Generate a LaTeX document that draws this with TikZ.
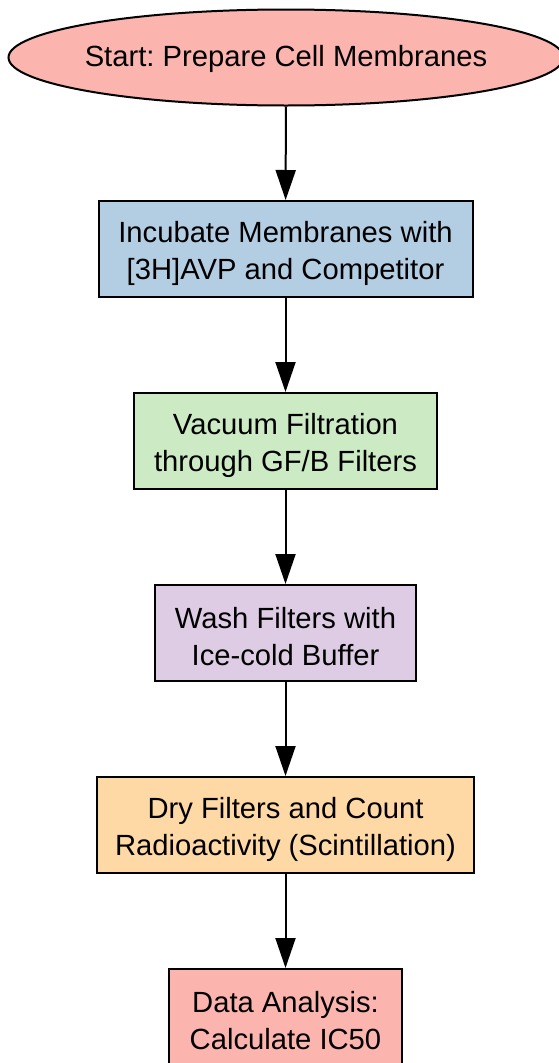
\documentclass[tikz,border=0pt]{standalone}
\usepackage{fontspec}
\setmainfont{Liberation Sans}
\usetikzlibrary{arrows.meta,shapes.geometric}
\frenchspacing
\definecolor{cred}{HTML}{FBB4AE}
\definecolor{cblue}{HTML}{B3CDE3}
\definecolor{cgreen}{HTML}{CCEBC5}
\definecolor{cpurple}{HTML}{DECBE4}
\definecolor{corange}{HTML}{FED9A6}
\tikzset{
  txt/.style={align=center, inner sep=0pt, yshift=-4pt, font=\fontsize{29.2pt}{37pt}\selectfont\frenchspacing},
  stepbox/.style={draw=black, line width=2pt, rectangle, inner sep=0pt, minimum height=96pt},
  startnode/.style={draw=black, line width=2pt, ellipse, inner sep=0pt, minimum width=555pt, minimum height=96pt},
  flow/.style={draw=black, line width=2pt, -{Triangle[length=30pt,width=20pt]}}
}
\begin{document}
\begin{tikzpicture}[x=1pt,y=-1pt]
\useasboundingbox (0,0) rectangle (558,1063);
\node[startnode, fill=cred, label={[txt, yshift=3pt]center:Start: Prepare Cell Membranes}] (s) at (286,57.5) {};
\node[stepbox, fill=cblue, minimum width=374pt, label={[txt]center:{Incubate Membranes with\\{}{[3H]AVP} and Competitor}}] (a) at (285.5,249) {};
\node[stepbox, fill=cgreen, minimum width=303pt, label={[txt]center:{Vacuum Filtration\\through GF/B Filters}}] (b) at (285.5,441) {};
\node[stepbox, fill=cpurple, minimum width=261pt, label={[txt]center:{Wash Filters with\\Ice-cold Buffer}}] (c) at (285.5,633) {};
\node[stepbox, fill=corange, minimum width=377pt, label={[txt]center:{Dry Filters and Count\\Radioactivity (Scintillation)}}] (d) at (285.5,825) {};
\node[stepbox, fill=cred, minimum width=233pt, label={[txt]center:{Data Analysis:\\Calculate IC50}}] (e) at (285.5,1017) {};
\draw[flow] (s) -- (a);
\draw[flow] (a) -- (b);
\draw[flow] (b) -- (c);
\draw[flow] (c) -- (d);
\draw[flow] (d) -- (e);
\end{tikzpicture}
\end{document}
